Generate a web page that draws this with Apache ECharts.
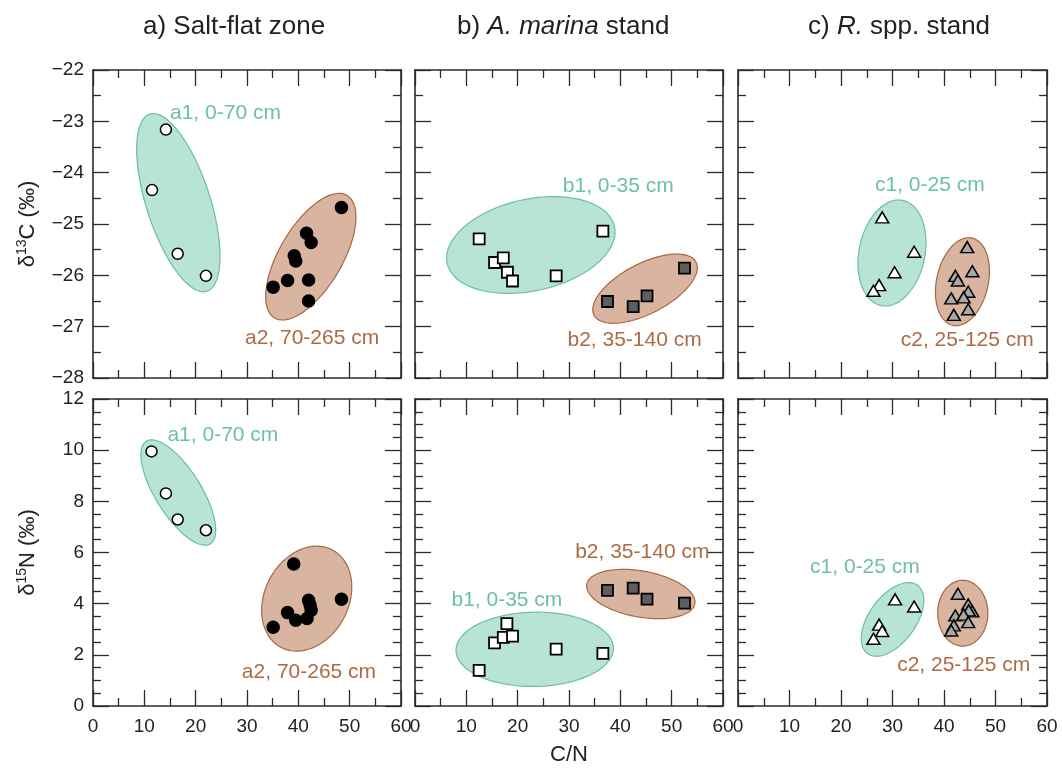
<!DOCTYPE html>
<html>
<head>
<meta charset="utf-8">
<script src="https://cdn.jsdelivr.net/npm/echarts@6/dist/echarts.min.js"></script>
<style>
  html, body { margin: 0; padding: 0; background: #fff; }
  #chart { width: 1062px; height: 771px; }
</style>
</head>
<body>
<div id="chart"></div>
<script>
// ---------- data ----------
// Panel headings (rich-text markup for the italic genus names)
const panelTitles = [
  '{n|a) Salt-flat zone}',
  '{n|b) }{i|A. marina}{n| stand}',
  '{n|c) }{i|R.}{n| spp. stand}'
];
const groupNamesA = ['a1, 0-70 cm', 'a2, 70-265 cm'];
const groupNamesB = ['b1, 0-35 cm', 'b2, 35-140 cm'];
const groupNamesC = ['c1, 0-25 cm', 'c2, 25-125 cm'];

// [C/N, δ13C]
const a1C = [[14.2, -23.16], [11.5, -24.34], [16.5, -25.58], [22.0, -26.01]];
const a2C = [[48.4, -24.68], [41.6, -25.18], [42.5, -25.36], [39.2, -25.62], [39.5, -25.72],
             [37.9, -26.10], [42.0, -26.09], [35.1, -26.23], [42.0, -26.50]];
const b1C = [[12.5, -25.29], [15.5, -25.75], [17.2, -25.66], [18.0, -25.94], [19.0, -26.11],
             [27.5, -26.01], [36.6, -25.14]];
const b2C = [[37.5, -26.51], [42.5, -26.61], [45.2, -26.40], [52.5, -25.86]];
const c1C = [[28.0, -24.87], [34.2, -25.54], [30.4, -25.94], [27.4, -26.19], [26.3, -26.30]];
const c2C = [[44.5, -25.45], [45.5, -25.92], [42.2, -26.01], [42.7, -26.10], [44.7, -26.32],
             [43.8, -26.43], [41.4, -26.45], [44.7, -26.66], [41.9, -26.77]];

// [C/N, δ15N]
const a1N = [[11.4, 9.95], [14.2, 8.31], [16.5, 7.29], [22.0, 6.87]];
const a2N = [[39.1, 5.55], [48.4, 4.17], [42.0, 4.13], [42.3, 3.95], [42.5, 3.74],
             [37.9, 3.65], [39.5, 3.35], [41.7, 3.42], [35.1, 3.08]];
const b1N = [[12.5, 1.39], [15.5, 2.47], [17.2, 2.68], [17.9, 3.22], [19.0, 2.73],
             [27.5, 2.22], [36.6, 2.06]];
const b2N = [[37.5, 4.52], [42.5, 4.61], [45.2, 4.18], [52.5, 4.02]];
const c1N = [[30.5, 4.17], [34.2, 3.89], [27.4, 3.18], [28.0, 2.93], [26.3, 2.63]];
const c2N = [[42.7, 4.39], [44.7, 3.97], [45.5, 3.70], [44.8, 3.74], [42.2, 3.54],
             [43.8, 3.57], [44.7, 3.28], [41.9, 3.15], [41.4, 2.95]];

// Group envelopes: [centre C/N, centre δ, major-axis end C/N, major-axis end δ, minor/major ratio]
const ellAC = [[16.62, -24.585, 22.17, -26.311, 0.343], [42.43, -25.637, 49.48, -24.443, 0.44]];
const ellBC = [[22.56, -25.409, 38.85, -25.051, 0.535], [44.81, -26.26, 54.74, -25.743, 0.436]];
const ellCC = [[29.9, -25.565, 31.99, -24.54, 0.613], [43.58, -26.124, 45.45, -25.274, 0.578]];
const ellAN = [[16.62, 8.345, 22.85, 6.34, 0.378], [41.63, 4.196, 46.63, 6.1, 0.761]];
const ellBN = [[23.32, 2.216, 38.65, 2.263, 0.472], [43.99, 4.376, 54.51, 3.996, 0.42]];
const ellCN = [[30.0, 3.384, 34.85, 4.719, 0.55], [43.64, 3.627, 43.64, 4.914, 0.762]];

// ---------- layout ----------
const FONT = "'Liberation Sans', Arial, Helvetica, sans-serif";
const cols = [{ left: 93, width: 308 }, { left: 415, width: 308 }, { left: 738, width: 309 }];
const rows = [{ top: 70, height: 308 }, { top: 399, height: 307 }];
const titleLeft = [143, 457, 808];

// Anchor points (left edge, vertical middle) for the group captions, in axis units
const labPosAC = [[15.0, -22.84], [29.6, -27.23]];
const labPosBC = [[28.8, -24.26], [29.7, -27.26]];
const labPosCC = [[26.6, -24.24], [31.6, -27.26]];
const labPosAN = [[14.5, 10.6], [29.0, 1.32]];
const labPosBN = [[7.1, 4.13], [31.2, 6.02]];
const labPosCN = [[14.0, 5.44], [30.9, 1.58]];

const envFill = ['#b8e4d4', '#d8b4a1'];
const envStroke = ['#6dbda4', '#a8683f'];
const capColor = ['#6cbfa8', '#ad6a43'];
const AXIS = '#2b2b2b';

const stands = [
  { symbol: 'circle', size: [11, 12], fill: ['#ffffff', '#000000'], border: 1.5 },
  { symbol: 'rect', size: [11, 11], fill: ['#ffffff', '#5e5e5e'], border: 1.8 },
  { symbol: 'triangle', size: [[13, 11], [13, 11]], fill: ['#ffffff', '#a8a8a8'], border: 1.5 }
];

const panels = [
  { row: 0, col: 0, pts: [a1C, a2C], ell: ellAC, lab: labPosAC, names: groupNamesA },
  { row: 0, col: 1, pts: [b1C, b2C], ell: ellBC, lab: labPosBC, names: groupNamesB },
  { row: 0, col: 2, pts: [c1C, c2C], ell: ellCC, lab: labPosCC, names: groupNamesC },
  { row: 1, col: 0, pts: [a1N, a2N], ell: ellAN, lab: labPosAN, names: groupNamesA },
  { row: 1, col: 1, pts: [b1N, b2N], ell: ellBN, lab: labPosBN, names: groupNamesB },
  { row: 1, col: 2, pts: [c1N, c2N], ell: ellCN, lab: labPosCN, names: groupNamesC }
];

const fmtMinus = v => (v < 0 ? '\u2212' + Math.abs(v) : String(v));

function axisCommon(min, max, interval, minorSplit) {
  return {
    type: 'value', min, max, interval,
    splitLine: { show: false },
    axisLine: { show: true, onZero: false, lineStyle: { color: AXIS, width: 1.6 } },
    axisTick: { show: true, inside: true, length: 16, lineStyle: { color: AXIS, width: 1.3 } },
    minorTick: { show: true, splitNumber: minorSplit, length: 8, lineStyle: { color: AXIS, width: 1.3 } },
    minorSplitLine: { show: false }
  };
}

// Draws one envelope: parametric outline built from the centre and the
// major-axis end point after both are mapped through the axes.
function renderEnvelope(params, api) {
  const c = api.coord([api.value(0), api.value(1)]);
  const e = api.coord([api.value(2), api.value(3)]);
  const r = api.value(4);
  const g = params.dataIndex;
  const ux = e[0] - c[0], uy = e[1] - c[1];
  const vx = -uy * r, vy = ux * r;
  const points = [];
  const n = 120;
  for (let k = 0; k < n; k++) {
    const t = (k / n) * Math.PI * 2;
    points.push([c[0] + ux * Math.cos(t) + vx * Math.sin(t), c[1] + uy * Math.cos(t) + vy * Math.sin(t)]);
  }
  return {
    type: 'polygon',
    shape: { points },
    style: { fill: envFill[g], stroke: envStroke[g], lineWidth: 1.2 }
  };
}

const grids = [], xAxes = [], yAxes = [], series = [];

panels.forEach((p, i) => {
  const top = p.row === 0;
  grids.push({
    left: cols[p.col].left, width: cols[p.col].width,
    top: rows[p.row].top, height: rows[p.row].height,
    containLabel: false, outerBoundsMode: 'none'
  });
  const yr = top ? [-28, -22, 1, 2] : [0, 12, 2, 4];

  // bottom + mirrored top x axes
  const xb = Object.assign(axisCommon(0, 60, 10, 2), {
    gridIndex: i, position: 'bottom',
    axisLabel: { show: !top, fontSize: 19, color: '#222', fontFamily: FONT, margin: 11,
                 showMinLabel: true, showMaxLabel: true }
  });
  if (i === 4) {
    xb.name = 'C/N';
    xb.nameLocation = 'middle';
    xb.nameGap = 38;
    xb.nameTextStyle = { fontSize: 22, color: '#222', fontFamily: FONT };
  }
  xAxes.push(xb);
  xAxes.push(Object.assign(axisCommon(0, 60, 10, 2), {
    gridIndex: i, position: 'top', axisLabel: { show: false }
  }));

  // left + mirrored right y axes
  const yl = Object.assign(axisCommon(yr[0], yr[1], yr[2], yr[3]), {
    gridIndex: i, position: 'left',
    axisLabel: { show: p.col === 0, fontSize: 19, color: '#222', fontFamily: FONT, margin: 9,
                 formatter: fmtMinus, showMinLabel: true, showMaxLabel: true }
  });
  if (p.col === 0) {
    yl.name = top ? '{t|δ}{s|13}{t|C (‰)}' : '{t|δ}{s|15}{t|N (‰)}';
    yl.nameLocation = 'middle';
    yl.nameRotate = 90;
    yl.nameGap = 52;
    yl.nameTextStyle = {
      color: '#222', fontFamily: FONT,
      rich: {
        t: { fontSize: 22, color: '#222', fontFamily: FONT, lineHeight: 26 },
        s: { fontSize: 14, color: '#222', fontFamily: FONT, verticalAlign: 'top', lineHeight: 14 }
      }
    };
  }
  yAxes.push(yl);
  yAxes.push(Object.assign(axisCommon(yr[0], yr[1], yr[2], yr[3]), {
    gridIndex: i, position: 'right', axisLabel: { show: false }
  }));

  const xi = 2 * i, yi = 2 * i;
  series.push({
    type: 'custom', xAxisIndex: xi, yAxisIndex: yi, z: 1, silent: true,
    renderItem: renderEnvelope, data: p.ell
  });

  const st = stands[p.col];
  p.pts.forEach((pts, g) => {
    series.push({
      type: 'scatter', xAxisIndex: xi, yAxisIndex: yi, z: 3, silent: true,
      symbol: st.symbol, symbolSize: st.size[g],
      itemStyle: { color: st.fill[g], borderColor: '#000', borderWidth: st.border, opacity: 1 },
      data: pts
    });
  });

  series.push({
    type: 'custom', xAxisIndex: xi, yAxisIndex: yi, z: 4, silent: true,
    data: p.lab,
    renderItem: (params, api) => {
      const pt = api.coord([api.value(0), api.value(1)]);
      const g = params.dataIndex;
      return {
        type: 'text', x: pt[0], y: pt[1],
        style: {
          text: p.names[g], fill: capColor[g], fontSize: 21, fontFamily: FONT,
          align: 'left', verticalAlign: 'middle'
        }
      };
    }
  });
});

const titleRich = {
  n: { fontSize: 26, color: '#222', fontFamily: FONT },
  i: { fontSize: 26, color: '#222', fontFamily: FONT, fontStyle: 'italic' }
};

const option = {
  animation: false,
  backgroundColor: '#ffffff',
  title: panelTitles.map((t, k) => ({
    text: t, left: titleLeft[k], top: 14, padding: 0,
    textStyle: { fontSize: 26, fontWeight: 'normal', color: '#222', fontFamily: FONT, rich: titleRich }
  })),
  grid: grids,
  xAxis: xAxes,
  yAxis: yAxes,
  series
};

const chart = echarts.init(document.getElementById('chart'), null, { renderer: 'canvas' });
chart.setOption(option);
</script>
</body>
</html>
